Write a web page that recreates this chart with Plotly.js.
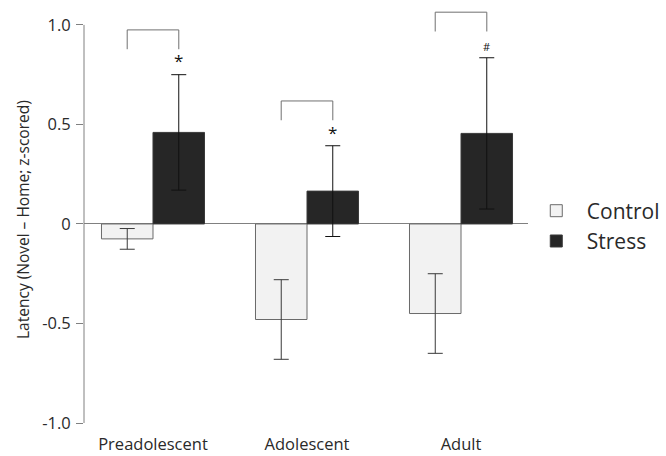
<!DOCTYPE html>
<html>
<head>
<meta charset="utf-8">
<script src="https://cdn.plot.ly/plotly-3.0.1.min.js"></script>
<style>html,body{margin:0;padding:0;background:#fff;}#chart{width:666px;height:456px;}</style>
</head>
<body>
<div id="chart"></div>
<script>
const categories = ['Preadolescent', 'Adolescent', 'Adult'];
const controlMean = [-0.075, -0.48, -0.45];
const controlErr = [0.052, 0.20, 0.20];
const stressMean = [0.46, 0.165, 0.455];
const stressErr = [0.29, 0.228, 0.38];
const sigLabels = ['*', '*', '#'];
const sigY = [0.82, 0.462, 0.894];
const bracketTop = [0.975, 0.618, 1.064];
const bracketDrop = 0.097;
const yTicks = [-1.0, -0.5, 0, 0.5, 1.0];
const yTickText = ['-1.0', '-0.5', '0', '0.5', '1.0'];

const FONT = 'Open Sans, sans-serif';
const TXT = '#2a2a2a';
const barHalf = 0.1675;

const traces = [
  {
    type: 'bar', name: 'Control', x: categories, y: controlMean,
    marker: {color: '#f2f2f2', line: {color: '#6a6a6a', width: 1}},
    error_y: {type: 'data', array: controlErr, visible: true, color: '#3a3a3a', thickness: 1, width: 7.5}
  },
  {
    type: 'bar', name: 'Stress', x: categories, y: stressMean,
    marker: {color: '#262626', line: {color: '#3a3a3a', width: 1}},
    error_y: {type: 'data', array: stressErr, visible: true, color: '#111', thickness: 1, width: 7.5}
  }
];

const shapes = [
  {type: 'line', xref: 'paper', yref: 'y', x0: 0, x1: 0, y0: -1.0, y1: 1.0,
   line: {color: '#808080', width: 1}}
];
const annotations = [
  {xref: 'paper', yref: 'paper', x: -0.1374, y: 0.494, textangle: -90,
   text: 'Latency (Novel \u2013 Home; z-scored)', showarrow: false,
   xanchor: 'center', yanchor: 'middle', font: {family: FONT, size: 15.5, color: TXT}}
];
categories.forEach((c, i) => {
  const xl = i - barHalf, xr = i + barHalf;
  const top = bracketTop[i], bot = bracketTop[i] - bracketDrop;
  shapes.push({type: 'path', xref: 'x', yref: 'y',
    path: `M${xl},${bot} L${xl},${top} L${xr},${top} L${xr},${bot}`,
    line: {color: '#707070', width: 1}});
  annotations.push({xref: 'x', yref: 'y', x: xr, y: sigY[i], text: sigLabels[i],
    showarrow: false, xanchor: 'center', yanchor: 'middle',
    font: {family: FONT, size: sigLabels[i] === '#' ? 11 : 17, color: '#111'}});
});

const layout = {
  width: 666, height: 456,
  margin: {l: 84, r: 138, t: 9, b: 32, pad: 0, autoexpand: false},
  paper_bgcolor: '#fff', plot_bgcolor: '#fff',
  barmode: 'group', bargap: 0.331, bargroupgap: 0,
  showlegend: true,
  legend: {x: 0.995, xanchor: 'left', y: 0.477, yanchor: 'middle', itemwidth: 51,
    font: {family: FONT, size: 21, color: TXT}, traceorder: 'normal', tracegroupgap: 0,
    bgcolor: 'rgba(0,0,0,0)'},
  xaxis: {type: 'category', range: [-0.448, 2.435], showgrid: false, showline: false, zeroline: false,
    ticks: '', ticklabelstandoff: 8, tickfont: {family: FONT, size: 16.5, color: TXT}, fixedrange: true},
  yaxis: {range: [-1.005, 1.08], tickvals: yTicks, ticktext: yTickText, showgrid: false, showline: false,
    zeroline: true, zerolinecolor: '#808080', zerolinewidth: 1,
    ticks: 'outside', ticklen: 7, tickwidth: 1, tickcolor: '#808080', ticklabelstandoff: 2,
    tickfont: {family: FONT, size: 16.5, color: TXT}, fixedrange: true},
  shapes: shapes,
  annotations: annotations
};

Plotly.newPlot('chart', traces, layout, {displayModeBar: false, staticPlot: true});
</script>
</body>
</html>
